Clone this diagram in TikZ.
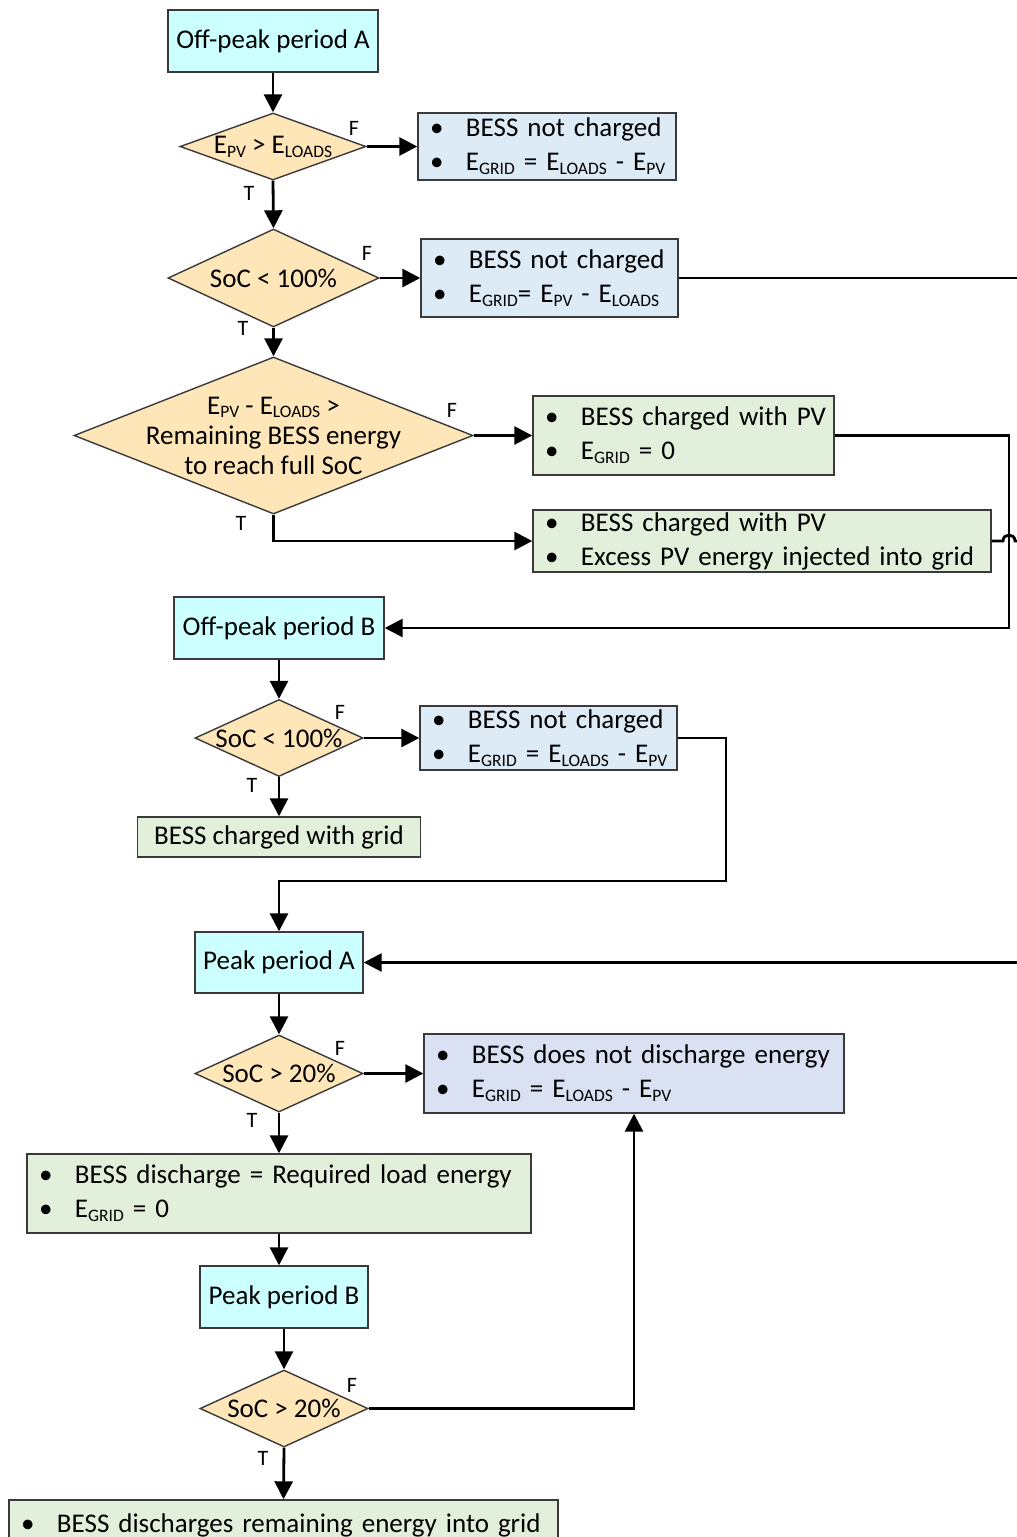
\documentclass[tikz,border=0pt]{standalone}
\usepackage{fontspec}
\setmainfont{Carlito}
\usetikzlibrary{shapes.geometric,arrows.meta}
\definecolor{cyanbox}{HTML}{CCFFFF}
\definecolor{decfill}{HTML}{FFE6B8}
\definecolor{bluebox}{HTML}{DDEBF7}
\definecolor{greenbox}{HTML}{E2EFDA}
\definecolor{lavbox}{HTML}{DAE1F3}
\definecolor{edgecol}{HTML}{3A3A3A}
\newcommand\sbs[1]{\raisebox{-0.3ex}{\fontsize{17.5}{18}\selectfont #1}}
\newcommand\bl[1]{\mbox{\makebox[36pt][l]{\textbullet}#1}}
\tikzset{
  base/.style={draw=edgecol, line width=1.4pt, inner sep=0pt, font=\fontsize{27}{34}\selectfont},
  sz/.style 2 args={minimum width=#1pt, minimum height=#2pt},
  period/.style 2 args={base, rectangle, fill=cyanbox, sz={#1}{#2}},
  plainbox/.style 2 args={base, rectangle, fill=greenbox, sz={#1}{#2}},
  bbox/.style 2 args={base, rectangle, text width=#1pt, minimum height=#2pt, inner xsep=12pt, align=left},
  dec/.style 2 args={base, diamond, fill=decfill, sz={#1}{#2}},
  dectext/.style={font=\fontsize{27}{30}\selectfont, align=center, inner sep=0pt},
  lab/.style={font=\fontsize{22}{24}\selectfont, inner sep=0pt},
  ln/.style={line width=2.8pt},
  arr/.style={line width=2.8pt, -{Triangle[length=18pt,width=18pt]}}
}
\begin{document}
\begin{tikzpicture}[x=1pt,y=-1pt]
\useasboundingbox (0,0) rectangle (1017,1537);
\clip (0,0) rectangle (1017,1537);

% nodes
\node[period={210}{62}] (A) at (273,41) {Off-peak period A};
\node[dec={186}{67}, label={[dectext]center:{E\sbs{PV} > E\sbs{LOADS}}}] (D1) at (273,146.5) {};
\node[bbox={234}{67}, fill=bluebox] (B1) at (547,146.5)
  {\bl{BESS not charged}\\\bl{E\sbs{GRID} = E\sbs{LOADS} - E\sbs{PV}}};
\node[dec={211}{98}, label={[dectext]center:{SoC < 100\%}}] (D2) at (273.5,278) {};
\node[bbox={233}{78}, fill=bluebox] (B2) at (549.5,278)
  {\bl{BESS not charged}\\\bl{E\sbs{GRID}= E\sbs{PV} - E\sbs{LOADS}}};
\node[dec={399}{157}, label={[dectext]center:{E\sbs{PV} - E\sbs{LOADS} >\\Remaining BESS energy\\to reach full SoC}}] (D3) at (273.5,435.5) {};
\node[bbox={277}{79}, fill=greenbox] (B3) at (683.5,435.5)
  {\bl{BESS charged with PV}\\\bl{E\sbs{GRID} = 0}};
\node[bbox={434}{62}, fill=greenbox] (B4) at (762,541)
  {\bl{BESS charged with PV}\\\bl{Excess PV energy injected into grid}};
\node[period={210}{62}] (OffB) at (279,628) {Off-peak period B};
\node[dec={168}{77}, label={[dectext]center:{SoC < 100\%}}] (D4) at (279,738) {};
\node[bbox={233}{64}, fill=bluebox] (B5) at (548.5,738)
  {\bl{BESS not charged}\\\bl{E\sbs{GRID} = E\sbs{LOADS} - E\sbs{PV}}};
\node[plainbox={283}{40}] (C) at (279,837) {BESS charged with grid};
\node[period={168}{61}] (PeakA) at (279,962.5) {Peak period A};
\node[dec={168}{77}, label={[dectext]center:{SoC > 20\%}}] (D5) at (279,1073.5) {};
\node[bbox={396}{79}, fill=lavbox] (B6) at (634,1073.5)
  {\bl{BESS does not discharge energy}\\\bl{E\sbs{GRID} = E\sbs{LOADS} - E\sbs{PV}}};
\node[bbox={480}{79}, fill=greenbox] (B7) at (279,1193.5)
  {\bl{BESS discharge = Required load energy}\\\bl{E\sbs{GRID} = 0}};
\node[period={168}{62}] (PeakB) at (284,1297) {Peak period B};
\node[dec={168}{77}, label={[dectext]center:{SoC > 20\%}}] (D6) at (284,1408.5) {};
\node[bbox={525}{50}, fill=greenbox] (B8) at (283.5,1525)
  {\bl{BESS discharges remaining energy into grid}};

% T/F labels
\node[lab] (f1) at (354,128) {F};
\node[lab] (t1) at (249,193) {T};
\node[lab] (f2) at (367,253) {F};
\node[lab] (t2) at (243,328) {T};
\node[lab] (f3) at (452,410) {F};
\node[lab] (t3) at (241,523) {T};
\node[lab] (f4) at (340,712) {F};
\node[lab] (t4) at (252,785) {T};
\node[lab] (f5) at (340,1048) {F};
\node[lab] (t5) at (252,1120) {T};
\node[lab] (f6) at (352,1385) {F};
\node[lab] (t6) at (263,1458) {T};

% helper coordinates
\coordinate (rx) at (1040,0);
\coordinate (hx) at (1009,0);
\coordinate (c2) at (726,881);

% connectors
\draw[arr] (A.south) -- (D1.north);
\draw[arr] (D1.east) -- (B1.west);
\draw[arr] (D1.south) -- (D2.north);
\draw[arr] (D2.east) -- (B2.west);
\draw[arr] (D2.south) -- (D3.north);
\draw[arr] (D3.east) -- (B3.west);
\draw[arr] (D3.south) |- (B4.west);
\draw[arr] (B3.east) -- (B3.east -| hx) -- (hx |- OffB.east) -- (OffB.east);
\draw[ln] (B4.east) -- (1003,541) .. controls (1003,533) and (1015,533) .. (1015,541) -- (B4.east -| rx);
\draw[arr] (B2.east) -- (B2.east -| rx) -- (rx |- PeakA.east) -- (PeakA.east);
\draw[arr] (OffB.south) -- (D4.north);
\draw[arr] (D4.east) -- (B5.west);
\draw[arr] (D4.south) -- (C.north);
\draw[arr] (B5.east) -| (c2) -| (PeakA.north);
\draw[arr] (PeakA.south) -- (D5.north);
\draw[arr] (D5.east) -- (B6.west);
\draw[arr] (D5.south) -- (B7.north);
\draw[arr] (B7.south) -- (B7.south |- PeakB.north);
\draw[arr] (PeakB.south) -- (D6.north);
\draw[arr] (D6.east) -| (B6.south);
\draw[arr] (D6.south) -- (B8.north);
\end{tikzpicture}
\end{document}
